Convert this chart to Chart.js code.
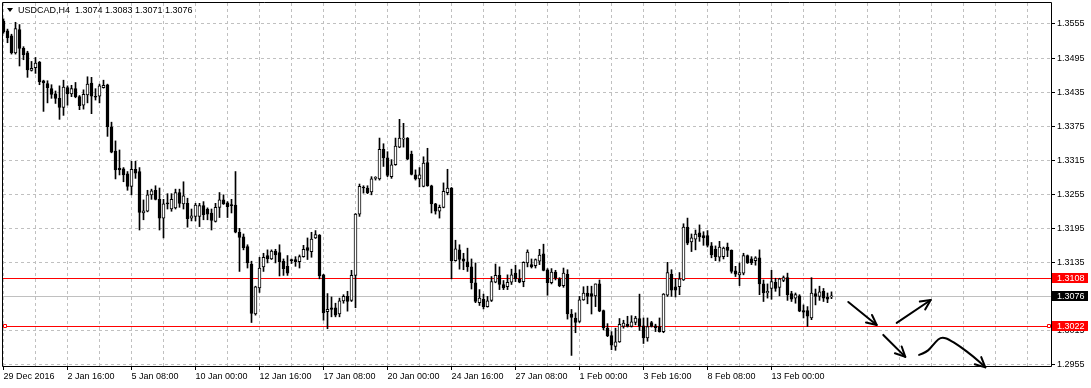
<!DOCTYPE html>
<html>
<head>
<meta charset="utf-8">
<script src="https://cdn.jsdelivr.net/npm/chart.js@4.4.1/dist/chart.umd.min.js"></script>
<style>
  html, body { margin: 0; padding: 0; background: #fff; }
</style>
</head>
<body>
<canvas id="chart" width="1091" height="388"></canvas>
<script>
const symbol = "USDCAD,H4"

// one label every 16 bars (H4 bars, weekends skipped)
const timeLabels = ["29 Dec 2016", "2 Jan 16:00", "5 Jan 08:00", "10 Jan 00:00", "12 Jan 16:00", "17 Jan 08:00",
    "20 Jan 00:00", "24 Jan 16:00", "27 Jan 08:00", "1 Feb 00:00", "3 Feb 16:00", "8 Feb 08:00", "13 Feb 00:00"]
const priceTicks = [1.2955, 1.3015, 1.3075, 1.3135, 1.3195, 1.3255, 1.3315, 1.3375, 1.3435, 1.3495, 1.3555]

const open = [
    1.3560, 1.3543, 1.3534, 1.3504, 1.3545, 1.3512, 1.3504, 1.3473, 1.3478, 1.3488,
    1.3455, 1.3450, 1.3441, 1.3432, 1.3424, 1.3408, 1.3443, 1.3432, 1.3441, 1.3427,
    1.3412, 1.3430, 1.3451, 1.3427, 1.3428, 1.3443, 1.3448, 1.3374, 1.3331, 1.3301,
    1.3300, 1.3291, 1.3269, 1.3299, 1.3295, 1.3222, 1.3225, 1.3254, 1.3262, 1.3246,
    1.3213, 1.3240, 1.3229, 1.3231, 1.3258, 1.3238, 1.3239, 1.3213, 1.3216, 1.3216,
    1.3235, 1.3229, 1.3222, 1.3207, 1.3232, 1.3245, 1.3240, 1.3236, 1.3236, 1.3188,
    1.3180, 1.3163, 1.3132, 1.3044, 1.3090, 1.3127, 1.3147, 1.3141, 1.3155, 1.3152,
    1.3137, 1.3128, 1.3139, 1.3140, 1.3136, 1.3145, 1.3161, 1.3154, 1.3178, 1.3183,
    1.3113, 1.3048, 1.3055, 1.3055, 1.3044, 1.3067, 1.3075, 1.3068, 1.3112, 1.3220,
    1.3267, 1.3266, 1.3259, 1.3283, 1.3282, 1.3334, 1.3319, 1.3286, 1.3307, 1.3338,
    1.3352, 1.3354, 1.3326, 1.3289, 1.3282, 1.3269, 1.3311, 1.3270, 1.3238, 1.3225,
    1.3232, 1.3258, 1.3266, 1.3138, 1.3157, 1.3141, 1.3136, 1.3127, 1.3099, 1.3064,
    1.3070, 1.3057, 1.3068, 1.3100, 1.3112, 1.3096, 1.3092, 1.3100, 1.3116, 1.3106,
    1.3101, 1.3134, 1.3131, 1.3129, 1.3137, 1.3150, 1.3122, 1.3099, 1.3118, 1.3106,
    1.3094, 1.3114, 1.3044, 1.3037, 1.3031, 1.3069, 1.3081, 1.3080, 1.3076, 1.3097,
    1.3050, 1.3019, 1.3006, 1.2987, 1.2995, 1.3022, 1.3026, 1.3022, 1.3029, 1.3036,
    1.3023, 1.3002, 1.3029, 1.3023, 1.3022, 1.3013, 1.3077, 1.3114, 1.3092, 1.3092,
    1.3104, 1.3197, 1.3171, 1.3176, 1.3187, 1.3182, 1.3182, 1.3164, 1.3158, 1.3144,
    1.3145, 1.3162, 1.3156, 1.3120, 1.3113, 1.3116, 1.3147, 1.3141, 1.3138, 1.3143,
    1.3097, 1.3081, 1.3089, 1.3100, 1.3091, 1.3103, 1.3108, 1.3080, 1.3072, 1.3076,
    1.3050, 1.3050, 1.3037, 1.3080, 1.3075, 1.3084, 1.3074, 1.3074
]
const high = [
    1.3564, 1.3546, 1.3537, 1.3558, 1.3554, 1.3515, 1.3507, 1.3489, 1.3496, 1.3489,
    1.3456, 1.3455, 1.3448, 1.3437, 1.3446, 1.3456, 1.3446, 1.3447, 1.3452, 1.3429,
    1.3439, 1.3462, 1.3461, 1.3441, 1.3449, 1.3456, 1.3449, 1.3382, 1.3349, 1.3333,
    1.3302, 1.3295, 1.3313, 1.3313, 1.3302, 1.3245, 1.3262, 1.3264, 1.3270, 1.3266,
    1.3246, 1.3256, 1.3256, 1.3264, 1.3264, 1.3277, 1.3248, 1.3229, 1.3239, 1.3239,
    1.3242, 1.3231, 1.3229, 1.3239, 1.3258, 1.3254, 1.3242, 1.3246, 1.3295, 1.3195,
    1.3185, 1.3166, 1.3137, 1.3093, 1.3144, 1.3151, 1.3157, 1.3157, 1.3158, 1.3166,
    1.3141, 1.3147, 1.3141, 1.3145, 1.3148, 1.3165, 1.3178, 1.3188, 1.3191, 1.3184,
    1.3114, 1.3080, 1.3074, 1.3063, 1.3072, 1.3078, 1.3084, 1.3121, 1.3221, 1.3273,
    1.3270, 1.3270, 1.3286, 1.3286, 1.3354, 1.3344, 1.3330, 1.3316, 1.3354, 1.3387,
    1.3380, 1.3355, 1.3331, 1.3298, 1.3302, 1.3321, 1.3336, 1.3271, 1.3239, 1.3236,
    1.3275, 1.3299, 1.3267, 1.3174, 1.3166, 1.3151, 1.3160, 1.3141, 1.3134, 1.3087,
    1.3079, 1.3075, 1.3110, 1.3132, 1.3127, 1.3103, 1.3113, 1.3123, 1.3130, 1.3122,
    1.3136, 1.3157, 1.3141, 1.3141, 1.3158, 1.3167, 1.3124, 1.3124, 1.3121, 1.3108,
    1.3125, 1.3122, 1.3052, 1.3046, 1.3075, 1.3092, 1.3093, 1.3093, 1.3097, 1.3104,
    1.3051, 1.3027, 1.3013, 1.3019, 1.3036, 1.3033, 1.3040, 1.3041, 1.3040, 1.3079,
    1.3037, 1.3037, 1.3031, 1.3026, 1.3037, 1.3080, 1.3135, 1.3122, 1.3106, 1.3117,
    1.3203, 1.3213, 1.3185, 1.3192, 1.3201, 1.3189, 1.3191, 1.3170, 1.3164, 1.3172,
    1.3162, 1.3169, 1.3157, 1.3128, 1.3134, 1.3151, 1.3148, 1.3145, 1.3145, 1.3157,
    1.3104, 1.3097, 1.3121, 1.3107, 1.3107, 1.3111, 1.3116, 1.3084, 1.3081, 1.3078,
    1.3060, 1.3057, 1.3108, 1.3088, 1.3093, 1.3089, 1.3081, 1.3083
]
const low = [
    1.3539, 1.3522, 1.3502, 1.3502, 1.3481, 1.3492, 1.3461, 1.3472, 1.3468, 1.3448,
    1.3401, 1.3416, 1.3424, 1.3415, 1.3387, 1.3394, 1.3412, 1.3427, 1.3425, 1.3404,
    1.3405, 1.3416, 1.3397, 1.3421, 1.3416, 1.3442, 1.3357, 1.3328, 1.3282, 1.3289,
    1.3277, 1.3262, 1.3254, 1.3283, 1.3192, 1.3210, 1.3224, 1.3246, 1.3245, 1.3192,
    1.3178, 1.3229, 1.3225, 1.3229, 1.3232, 1.3229, 1.3197, 1.3208, 1.3208, 1.3198,
    1.3210, 1.3210, 1.3192, 1.3206, 1.3214, 1.3237, 1.3214, 1.3222, 1.3187, 1.3119,
    1.3157, 1.3125, 1.3029, 1.3042, 1.3082, 1.3119, 1.3134, 1.3140, 1.3134, 1.3111,
    1.3112, 1.3112, 1.3133, 1.3128, 1.3125, 1.3144, 1.3140, 1.3144, 1.3177, 1.3106,
    1.3033, 1.3018, 1.3039, 1.3039, 1.3039, 1.3063, 1.3049, 1.3066, 1.3055, 1.3216,
    1.3257, 1.3256, 1.3254, 1.3280, 1.3280, 1.3304, 1.3286, 1.3283, 1.3306, 1.3337,
    1.3338, 1.3316, 1.3289, 1.3280, 1.3268, 1.3268, 1.3269, 1.3222, 1.3220, 1.3213,
    1.3231, 1.3254, 1.3106, 1.3137, 1.3123, 1.3122, 1.3119, 1.3088, 1.3064, 1.3059,
    1.3053, 1.3056, 1.3066, 1.3099, 1.3087, 1.3087, 1.3087, 1.3096, 1.3101, 1.3099,
    1.3092, 1.3127, 1.3125, 1.3125, 1.3131, 1.3120, 1.3077, 1.3097, 1.3104, 1.3092,
    1.3091, 1.3035, 1.2971, 1.3011, 1.3029, 1.3068, 1.3062, 1.3044, 1.3057, 1.3048,
    1.3016, 1.3004, 1.2981, 1.2980, 1.2994, 1.3019, 1.3021, 1.3021, 1.3025, 1.3015,
    1.2992, 1.2996, 1.3021, 1.3013, 1.3012, 1.3011, 1.3075, 1.3075, 1.3074, 1.3078,
    1.3103, 1.3166, 1.3154, 1.3157, 1.3172, 1.3165, 1.3162, 1.3143, 1.3138, 1.3137,
    1.3141, 1.3145, 1.3116, 1.3110, 1.3094, 1.3113, 1.3133, 1.3131, 1.3130, 1.3078,
    1.3066, 1.3072, 1.3070, 1.3084, 1.3076, 1.3101, 1.3068, 1.3066, 1.3063, 1.3048,
    1.3037, 1.3022, 1.3034, 1.3060, 1.3068, 1.3066, 1.3064, 1.3071
]
const close = [
    1.3541, 1.3531, 1.3504, 1.3547, 1.3512, 1.3501, 1.3474, 1.3477, 1.3486, 1.3453,
    1.3451, 1.3443, 1.3431, 1.3424, 1.3408, 1.3444, 1.3432, 1.3441, 1.3427, 1.3411,
    1.3431, 1.3449, 1.3428, 1.3426, 1.3446, 1.3447, 1.3374, 1.3329, 1.3298, 1.3298,
    1.3289, 1.3269, 1.3299, 1.3292, 1.3223, 1.3226, 1.3254, 1.3261, 1.3246, 1.3213,
    1.3238, 1.3238, 1.3246, 1.3258, 1.3239, 1.3252, 1.3212, 1.3217, 1.3236, 1.3235,
    1.3219, 1.3220, 1.3209, 1.3232, 1.3245, 1.3238, 1.3233, 1.3235, 1.3188, 1.3179,
    1.3161, 1.3134, 1.3045, 1.3092, 1.3125, 1.3144, 1.3141, 1.3155, 1.3148, 1.3136,
    1.3124, 1.3116, 1.3138, 1.3136, 1.3145, 1.3158, 1.3156, 1.3176, 1.3184, 1.3111,
    1.3046, 1.3052, 1.3052, 1.3042, 1.3067, 1.3075, 1.3066, 1.3112, 1.3220, 1.3269,
    1.3266, 1.3258, 1.3282, 1.3284, 1.3334, 1.3319, 1.3288, 1.3307, 1.3340, 1.3354,
    1.3354, 1.3317, 1.3290, 1.3282, 1.3289, 1.3310, 1.3270, 1.3238, 1.3225, 1.3232,
    1.3260, 1.3266, 1.3138, 1.3159, 1.3140, 1.3137, 1.3127, 1.3099, 1.3066, 1.3072,
    1.3057, 1.3067, 1.3101, 1.3112, 1.3096, 1.3090, 1.3100, 1.3113, 1.3106, 1.3100,
    1.3135, 1.3153, 1.3127, 1.3140, 1.3148, 1.3121, 1.3099, 1.3118, 1.3107, 1.3094,
    1.3116, 1.3044, 1.3038, 1.3029, 1.3069, 1.3081, 1.3075, 1.3075, 1.3097, 1.3049,
    1.3020, 1.3006, 1.2989, 1.2995, 1.3026, 1.3028, 1.3022, 1.3030, 1.3037, 1.3022,
    1.3002, 1.3022, 1.3022, 1.3020, 1.3013, 1.3079, 1.3117, 1.3086, 1.3086, 1.3106,
    1.3197, 1.3169, 1.3178, 1.3185, 1.3180, 1.3178, 1.3165, 1.3148, 1.3145, 1.3162,
    1.3160, 1.3156, 1.3119, 1.3114, 1.3117, 1.3147, 1.3134, 1.3134, 1.3143, 1.3097,
    1.3081, 1.3084, 1.3101, 1.3089, 1.3106, 1.3108, 1.3078, 1.3070, 1.3078, 1.3049,
    1.3047, 1.3040, 1.3081, 1.3075, 1.3083, 1.3072, 1.3070, 1.3076
]

// horizontal lines drawn on the chart, and the bid
const levels = [1.3108, 1.3022]
const bidPrice = 1.3076

// hand-drawn arrows, [bar index, price]
const arrows = [
    [[211.2, 1.30652], [218.3, 1.30247]],
    [[223.3, 1.30283], [231.8, 1.30687]],
    [[219.95, 1.30071], [225.45, 1.29684]],
    [[228.9, 1.29719], [230.8, 1.29764], [232.45, 1.29900], [233.7, 1.30000], [234.8, 1.30028],
     [236.2, 1.30000], [239.1, 1.29870], [242.45, 1.29694], [245.45, 1.29500]]
]

const FONT = "9px 'Liberation Sans', Arial, sans-serif"
Chart.defaults.font.family = "'Liberation Sans', Arial, sans-serif"
Chart.defaults.font.size = 9
Chart.defaults.color = "#000"

const barsPerLabel = 16
const gridBars = []
for (let b = 0; b <= 256; b += 8) gridBars.push(b)

function labelAt(v) {
    if (v % barsPerLabel !== 0) return ""
    return timeLabels[v / barsPerLabel] || ""
}

function hline(ctx, area, py, color) {
    const y = Math.round(py) + 0.5
    ctx.strokeStyle = color
    ctx.lineWidth = 1
    ctx.beginPath()
    ctx.moveTo(area.left, y)
    ctx.lineTo(area.right, y)
    ctx.stroke()
}

function badge(ctx, area, py, text, bg) {
    const y = Math.round(py)
    ctx.fillStyle = bg
    ctx.fillRect(area.right + 1, y - 5, 36, 10)
    ctx.fillStyle = "#fff"
    ctx.font = FONT
    ctx.textAlign = "left"
    ctx.textBaseline = "middle"
    ctx.fillText(text, area.right + 6, y + 0.5)
}

function marker(ctx, x, py) {
    const y = Math.round(py)
    ctx.fillStyle = "#fff"
    ctx.fillRect(x, y - 2, 4, 4)
    ctx.strokeStyle = "#ff0000"
    ctx.lineWidth = 1
    ctx.strokeRect(x + 0.5, y - 1.5, 3, 3)
}

const overlay = {
    id: "overlay",
    beforeDatasetsDraw(chart) {
        const { ctx, chartArea: area, scales: { y } } = chart
        ctx.save()
        hline(ctx, area, y.getPixelForValue(bidPrice), "#c0c0c0")
        levels.forEach(v => hline(ctx, area, y.getPixelForValue(v), "#ff0000"))
        ctx.restore()
    },
    afterDraw(chart) {
        const { ctx, chartArea: area, scales: { x, y } } = chart
        ctx.save()

        // arrows
        ctx.strokeStyle = "#000"
        ctx.lineWidth = 2
        ctx.lineCap = "round"
        ctx.lineJoin = "round"
        arrows.forEach(a => {
            const p = a.map(q => ({ x: x.getPixelForValue(q[0]), y: y.getPixelForValue(q[1]) }))
            ctx.beginPath()
            ctx.moveTo(p[0].x, p[0].y)
            if (p.length === 2) {
                ctx.lineTo(p[1].x, p[1].y)
            } else {
                for (let i = 1; i < p.length - 1; i++) {
                    const mx = (p[i].x + p[i + 1].x) / 2, my = (p[i].y + p[i + 1].y) / 2
                    ctx.quadraticCurveTo(p[i].x, p[i].y, mx, my)
                }
                ctx.lineTo(p[p.length - 1].x, p[p.length - 1].y)
            }
            ctx.stroke()
            const tip = p[p.length - 1], prev = p[p.length - 2]
            const ang = Math.atan2(tip.y - prev.y, tip.x - prev.x)
            ctx.beginPath()
            for (const s of [-1, 1]) {
                ctx.moveTo(tip.x, tip.y)
                ctx.lineTo(tip.x - 11 * Math.cos(ang + s * 0.45), tip.y - 11 * Math.sin(ang + s * 0.45))
            }
            ctx.stroke()
        })

        // frame
        ctx.strokeStyle = "#000"
        ctx.lineWidth = 1
        ctx.lineCap = "butt"
        ctx.strokeRect(area.left - 0.5, area.top - 0.5, area.right - area.left + 1, area.bottom - area.top + 1)

        // level markers and price badges
        const lowY = y.getPixelForValue(levels[1])
        marker(ctx, area.left, lowY)
        marker(ctx, area.right - 4, lowY)
        badge(ctx, area, y.getPixelForValue(levels[0]), levels[0].toFixed(4), "#ff0000")
        badge(ctx, area, y.getPixelForValue(bidPrice), bidPrice.toFixed(4), "#000")
        badge(ctx, area, lowY, levels[1].toFixed(4), "#ff0000")

        // title
        const n = close.length - 1
        ctx.fillStyle = "#000"
        ctx.beginPath()
        ctx.moveTo(7, 8)
        ctx.lineTo(13, 8)
        ctx.lineTo(10, 12)
        ctx.closePath()
        ctx.fill()
        ctx.font = FONT
        ctx.textAlign = "left"
        ctx.textBaseline = "middle"
        ctx.fillText(symbol + "  " + [open[n], high[n], low[n], close[n]].map(v => v.toFixed(4)).join(" "), 18, 11)
        ctx.restore()
    }
}

const bodies = open.map((o, i) => ({ x: i, y: [o, close[i]] }))
const wicks = low.map((l, i) => ({ x: i, y: [l, high[i]] }))

new Chart(document.getElementById("chart"), {
    type: "bar",
    data: {
        datasets: [
            {
                label: "body",
                data: bodies,
                backgroundColor: open.map((o, i) => close[i] >= o ? "#fff" : "#000"),
                borderColor: "#000",
                borderWidth: 1,
                borderSkipped: false,
                barThickness: 3,
                minBarLength: 1,
                grouped: false,
                order: 0
            },
            {
                label: "wick",
                data: wicks,
                backgroundColor: "#000",
                borderWidth: 0,
                barThickness: 1,
                grouped: false,
                order: 1
            }
        ]
    },
    options: {
        responsive: false,
        animation: false,
        devicePixelRatio: 1,
        events: [],
        layout: { padding: { left: 3, top: 3, right: 0, bottom: 0 } },
        plugins: { legend: { display: false }, tooltip: { enabled: false } },
        scales: {
            x: {
                type: "linear",
                min: -0.125,
                max: 261.875,
                offset: false,
                afterBuildTicks: s => { s.ticks = gridBars.map(v => ({ value: v })) },
                afterFit: s => { s.height = 22; s.paddingLeft = 0; s.paddingRight = 0 },
                grid: {
                    color: "#c0c0c0",
                    offset: false,
                    tickLength: 4,
                    tickColor: c => labelAt(c.tick.value) ? "#000" : "rgba(0,0,0,0)"
                },
                border: { display: false, dash: [3, 3] },
                ticks: {
                    autoSkip: false,
                    maxRotation: 0,
                    align: "start",
                    padding: 1,
                    color: "#000",
                    callback: v => labelAt(v)
                }
            },
            y: {
                position: "right",
                min: 1.295236,
                max: 1.3592,
                afterBuildTicks: s => { s.ticks = priceTicks.map(v => ({ value: v })) },
                afterFit: s => { s.width = 40; s.paddingTop = 0; s.paddingBottom = 0 },
                grid: { color: "#c0c0c0", tickLength: 4, tickColor: "#000" },
                border: { display: false, dash: [3, 3] },
                ticks: { padding: 2, color: "#000", callback: v => v.toFixed(4) }
            }
        }
    },
    plugins: [overlay]
})
</script>
</body>
</html>
